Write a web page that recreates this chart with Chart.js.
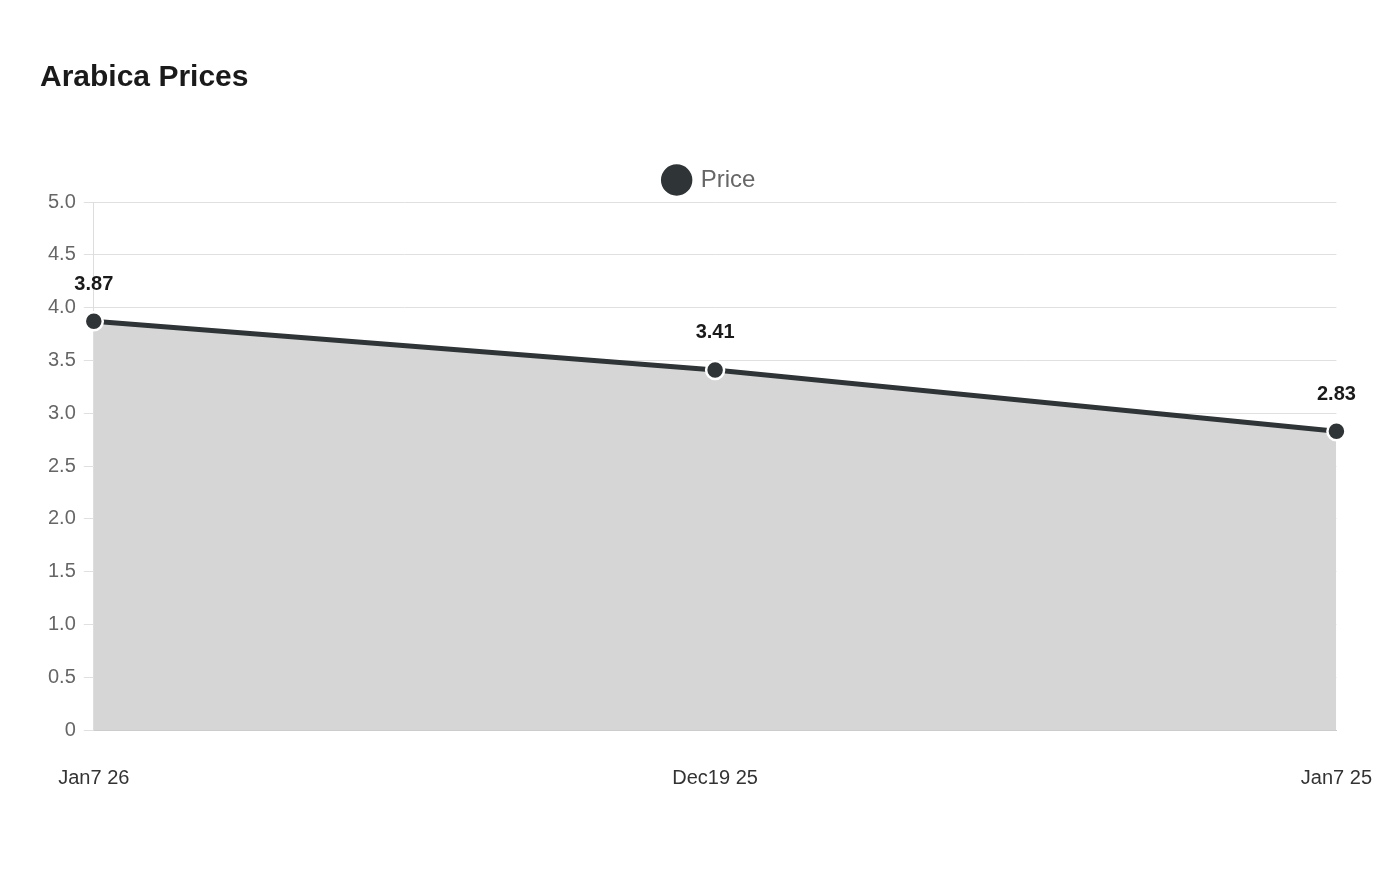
<!DOCTYPE html>
<html>
<head>
<meta charset="utf-8">
<script src="https://cdn.jsdelivr.net/npm/chart.js@4"></script>
<style>
  html, body { margin: 0; padding: 0; background: #fff; }
  #wrap { width: 1400px; height: 880px; }
</style>
</head>
<body>
<div id="wrap"><canvas id="chart"></canvas></div>
<script>
// === Données ===
const dates = ["Jan7 26", "Dec19 25", "Jan7 25"];
const prix = [3.87, 3.41, 2.83];

// === Étiquettes au-dessus des points ===
const etiquettes = {
  id: "etiquettes",
  afterDatasetsDraw(chart) {
    const c = chart.ctx;
    const meta = chart.getDatasetMeta(0);
    c.save();
    c.font = "bold 20px Liberation Sans, Arial, sans-serif";
    c.fillStyle = "#1a1a1a";
    c.textAlign = "center";
    c.textBaseline = "bottom";
    meta.data.forEach((pt, i) => {
      c.fillText(prix[i].toFixed(2), pt.x, pt.y - 27);
    });
    c.restore();
  }
};

Chart.defaults.font.family = "Liberation Sans, Arial, sans-serif";

const ctx = document.getElementById("chart").getContext("2d");
new Chart(ctx, {
  type: "line",
  data: {
    labels: dates,
    datasets: [{
      label: "Price",
      data: prix,
      borderColor: "#2f3436",
      backgroundColor: "#2f3436",
      borderWidth: 5,
      fill: { target: "origin", above: "rgba(213,214,213,1)" },
      tension: 0,
      pointRadius: 9,
      pointHoverRadius: 9,
      pointBackgroundColor: "#2f3436",
      pointBorderColor: "#ffffff",
      pointBorderWidth: 2.5
    }]
  },
  options: {
    responsive: true,
    maintainAspectRatio: false,
    animation: false,
    layout: { padding: { left: 40, right: 20, top: 40, bottom: 62 } },
    plugins: {
      title: {
        display: true,
        text: "Arabica Prices",
        align: "start",
        color: "#1a1a1a",
        font: { size: 30, weight: "bold" },
        padding: { top: 20, bottom: 60 }
      },
      legend: {
        labels: {
          usePointStyle: true,
          pointStyle: "circle",
          boxWidth: 30,
          boxHeight: 30,
          color: "#666",
          font: { size: 24 },
          padding: 12
        }
      },
      tooltip: { enabled: false }
    },
    scales: {
      x: {
        grid: { display: false },
        border: { color: "#ccc" },
        ticks: { color: "#333", font: { size: 20 }, padding: 28, maxRotation: 0 }
      },
      y: {
        min: 0,
        max: 5,
        grid: { color: "#e0e0e0", tickLength: 10 },
        border: { color: "#ddd" },
        ticks: {
          stepSize: 0.5,
          color: "#666",
          font: { size: 20 },
          padding: 8,
          callback: v => v === 0 ? "0" : v.toFixed(1)
        }
      }
    }
  },
  plugins: [etiquettes]
});
</script>
</body>
</html>
